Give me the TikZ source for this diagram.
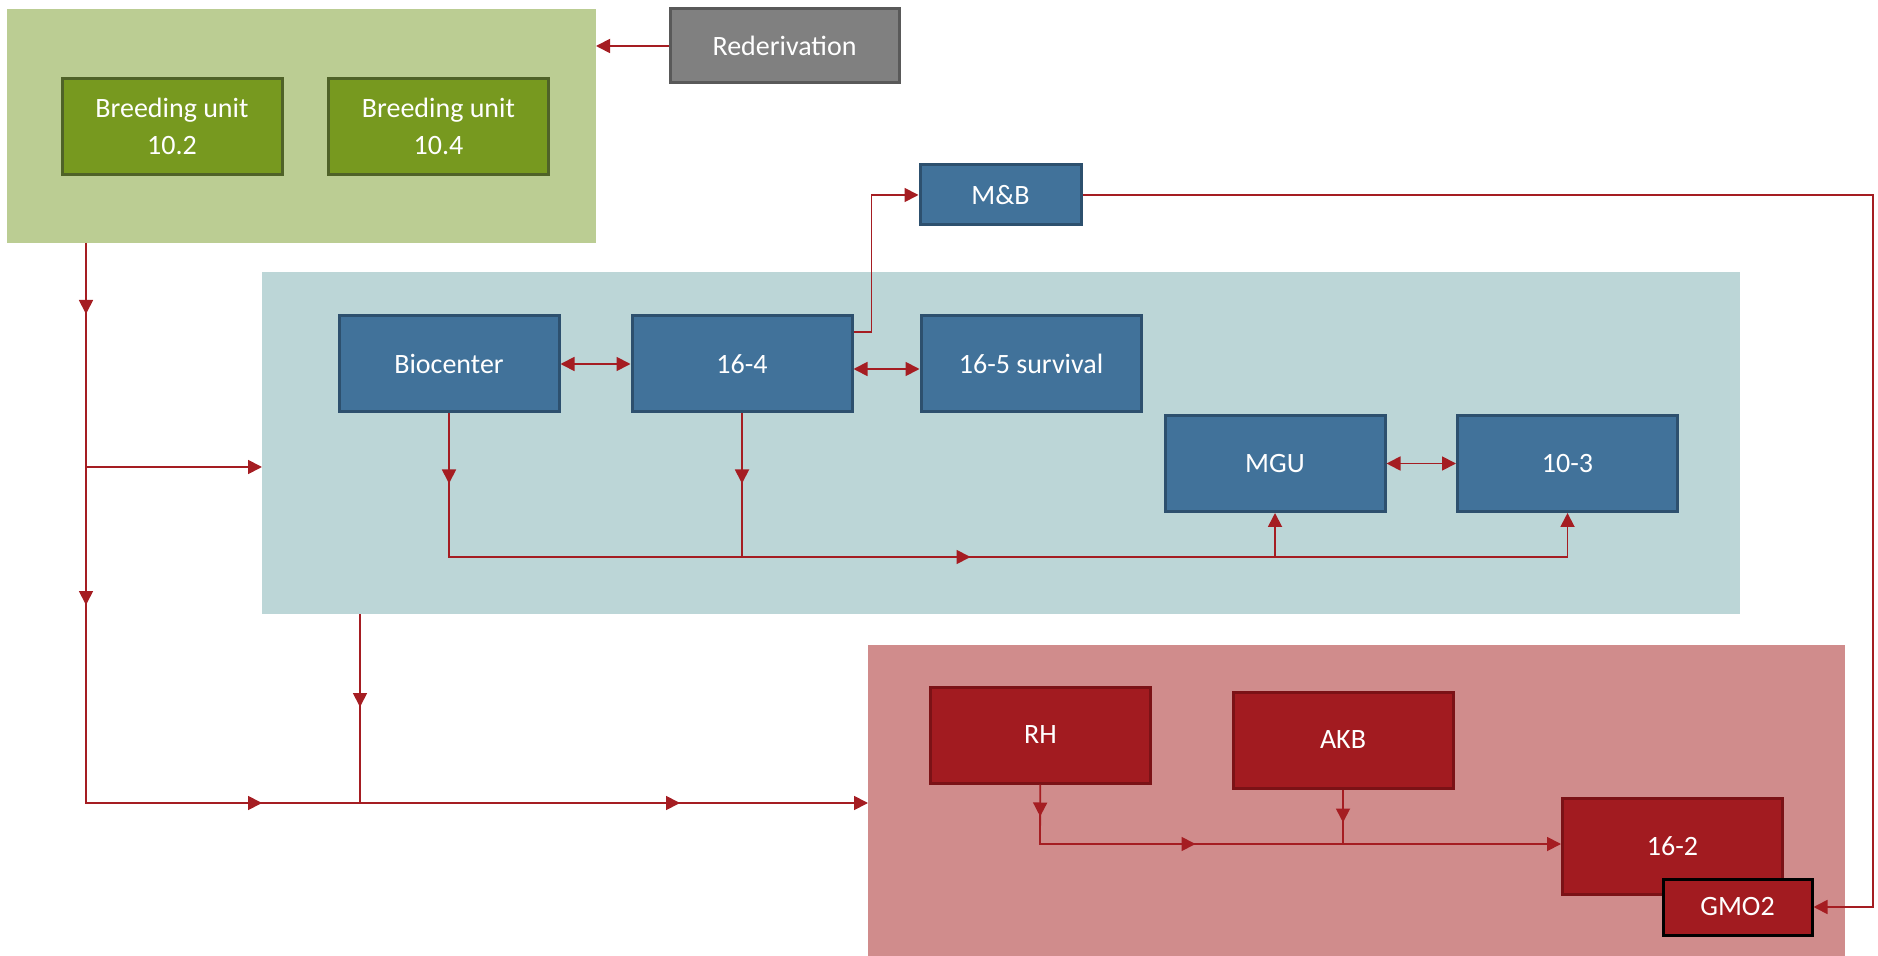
\documentclass[tikz,border=0pt]{standalone}
\usepackage{fontspec}
\setmainfont{Carlito}
\usetikzlibrary{arrows.meta,decorations.markings}

\definecolor{greenbg}{HTML}{BBCD93}
\definecolor{greenbox}{HTML}{77991F}
\definecolor{greenline}{HTML}{4F6228}
\definecolor{bluebg}{HTML}{BCD6D7}
\definecolor{bluebox}{HTML}{41729A}
\definecolor{blueline}{HTML}{2D506E}
\definecolor{redbg}{HTML}{D08C8C}
\definecolor{redbox}{HTML}{A21B20}
\definecolor{redline}{HTML}{7B1216}
\definecolor{flowred}{HTML}{A51D22}

\tikzset{
  panel/.style={rectangle, inner sep=0pt, outer sep=0pt},
  unit/.style={rectangle, text=white, inner sep=0pt, line width=1.5pt, align=center,
    minimum width=110pt, minimum height=48pt, font=\fontsize{14}{18.5}\selectfont},
  green unit/.style={unit, fill=greenbox, draw=greenline},
  blue unit/.style={unit, fill=bluebox, draw=blueline},
  red unit/.style={unit, fill=redbox, draw=redline},
  >={Triangle[length=7pt,width=7pt]},
  flow/.style={draw=flowred, line width=0.9pt, ->},
  am/.style={postaction={decorate,decoration={markings,mark=at position #1 with {\arrow{>}}}}}
}

\begin{document}
\begin{tikzpicture}[x=0.5pt,y=-0.5pt]
    \useasboundingbox (0,0) rectangle (1878,956);
    % panels
    \node[panel, fill=greenbg, minimum width=294.5pt, minimum height=117pt] (green) at (301.5,126) {};
    \node[panel, fill=bluebg, minimum width=739pt, minimum height=171pt] (blue) at (1001,443) {};
    \node[panel, fill=redbg, minimum width=488.5pt, minimum height=155.5pt] (red) at (1356.5,800.5) {};

    % units
    \node[green unit] (bu102) at (172,126.5) {Breeding unit\\10.2};
    \node[green unit] (bu104) at (438.5,126.5) {Breeding unit\\10.4};
    \node[unit, fill=gray!100, draw=black!65, minimum width=114.5pt, minimum height=37pt] (reder) at (784.5,46) {Rederivation};
    \node[blue unit, minimum width=80.5pt, minimum height=30pt] (mb) at (1000.5,195) {M\&B};
    \node[blue unit] (bio) at (449,364) {Biocenter};
    \node[blue unit] (u164) at (742,364) {16-4};
    \node[blue unit] (u165) at (1031,364) {16-5 survival};
    \node[blue unit] (mgu) at (1275,463.5) {MGU};
    \node[blue unit] (u103) at (1567.5,463.5) {10-3};
    \node[red unit] (rh) at (1040.5,735) {RH};
    \node[red unit] (akb) at (1343,740) {AKB};
    \node[red unit] (u162) at (1672.5,846) {16-2};
    \node[red unit, draw=black, minimum width=74.5pt, minimum height=28pt] (gmo) at (1737.5,907) {GMO2};

    % junctions
    \coordinate (ltop) at (86,243);
    \coordinate (lmid) at (86,467);
    \coordinate (lbot) at (86,803);
    \coordinate (bdrop) at (360,614);
    \coordinate (bus) at (449,557);
    \coordinate (rbus) at (1040,844);
    \coordinate (rt) at (1873,195);

    % connectors
    \draw[flow] (reder.west) -- (reder.west -| green.east);
    \draw[flow, am=35.5pt, am=181pt, am=368pt, am=577pt] (ltop) -- (lbot) -- (lbot -| red.west);
    \draw[flow] (lmid) -- (lmid -| blue.west);
    \draw[flow, -, am=46.5pt] (bdrop) -- (bdrop |- lbot);
    \draw[flow, am=35pt, am=332.5pt] (bio) -- (bus) -| (u103);
    \draw[flow, -, am=35pt] (u164) -- (u164 |- bus);
    \draw[flow] (mgu |- bus) -- (mgu);
    \draw[flow, <->] (bio) -- (u164);
    \draw[flow, <->] ([yshift=-2.5pt]u164.east) -- ([yshift=-2.5pt]u165.west);
    \draw[flow, <->] (mgu) -- (u103);
    \draw[flow] ([yshift=16pt]u164.east) -- ++(9pt,0) |- (mb);
    \draw[flow] (mb) -- (rt) |- (gmo);
    \draw[flow, am=16pt, am=107.5pt] (rh) -- (rbus) -- (rbus -| u162.west);
    \draw[flow, -, am=16.5pt] (akb) -- (akb |- rbus);
\end{tikzpicture}
\end{document}
